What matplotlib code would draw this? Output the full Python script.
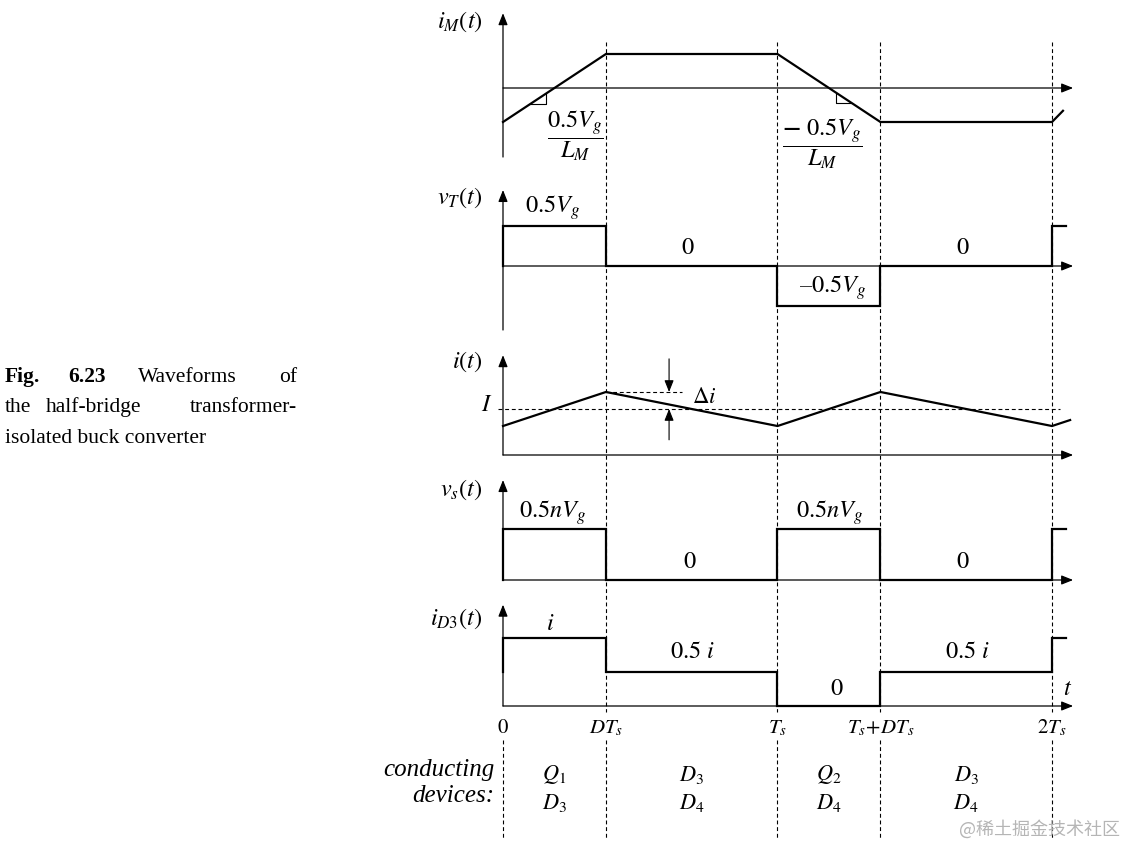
import numpy as np
import matplotlib
matplotlib.use("Agg")
import matplotlib.pyplot as plt

plt.rcParams['font.family'] = ['Liberation Serif', 'DejaVu Serif']
plt.rcParams['mathtext.fontset'] = 'stix'

# ---- data (time in units of Ts) ----
D = 0.375
t_marks = [0, D, 1, 1 + D, 2]
t_labels = ['$0$', '$DT_s$', '$T_s$', '$T_s\\!+\\!DT_s$', '$2T_s$']

# magnetizing current (normalized)
t_iM = [0, D, 1, 1 + D, 2, 2.04]
iM = [-1, 1, 1, -1, -1, -0.67]

# transformer voltage
t_sq = [0, 0, D, D, 1, 1, 1 + D, 1 + D, 2, 2, 2.05]
vT = [0, 1, 1, 0, 0, -1, -1, 0, 0, 1, 1]
vs = [0, 1, 1, 0, 0, 1, 1, 0, 0, 1, 1]
iD3 = [0.5, 1, 1, 0.5, 0.5, 0, 0, 0.5, 0.5, 1, 1]

# output inductor current
I_avg = 1.0
di = 0.37
t_i = [0, D, 1, 1 + D, 2, 2.066]
i_t = [I_avg - di, I_avg + di, I_avg - di, I_avg + di, I_avg - di, I_avg - di + 0.13]

devices_top = ['$Q_1$', '$D_3$', '$Q_2$', '$D_3$']
devices_bot = ['$D_3$', '$D_4$', '$D_4$', '$D_4$']

# ---- layout ----
W, H = 1125, 846
X0_PX, T_PX = 503, 274.5
XL = (-X0_PX / T_PX, (W - X0_PX) / T_PX)
X_END = 2.077
LW = 1.6
AX_LW = 0.9
DASH = (0, (3.5, 2.5))
FS = 17.5

fig = plt.figure(figsize=(W / 100, H / 100), dpi=100)

bg = fig.add_axes([0, 0, 1, 1])
bg.set_xlim(*XL)
bg.set_ylim(H, 0)
bg.axis('off')


def add_panel(axis_px, scale, top_px, bot_px):
    ax = fig.add_axes([0, 1 - bot_px / H, 1, (bot_px - top_px) / H])
    ax.set_xlim(*XL)
    ax.set_ylim((axis_px - bot_px) / scale, (axis_px - top_px) / scale)
    ax.axis('off')
    return ax


def arrow(ax, p0, p1, lw=AX_LW):
    ax.annotate('', xy=p1, xytext=p0,
                arrowprops=dict(arrowstyle='-|>,head_length=0.7,head_width=0.28',
                                lw=lw, color='k', shrinkA=0, shrinkB=0,
                                mutation_scale=10))


def axes_arrows(ax, ybot, ytop):
    arrow(ax, (0, ybot), (0, ytop))
    arrow(ax, (0, 0), (X_END, 0))


# dashed period markers
bg.vlines(t_marks[1:], 42, 712, colors='k', lw=0.8, linestyles=DASH)
bg.vlines(t_marks, 740, 840, colors='k', lw=0.8, linestyles=DASH)
for t, lab in zip(t_marks, t_labels):
    bg.text(t, 733, lab, ha='center', va='baseline', fontsize=15)

# conducting devices
bg.text(-0.03, 770, 'conducting', ha='right', va='center', fontsize=18, style='italic')
bg.text(-0.03, 796, 'devices:', ha='right', va='center', fontsize=18, style='italic')
mids = [(a + b) / 2 for a, b in zip(t_marks[:-1], t_marks[1:])]
for tm, a, b in zip(mids, devices_top, devices_bot):
    bg.text(tm, 775, a, ha='center', va='center', fontsize=16)
    bg.text(tm, 803, b, ha='center', va='center', fontsize=16)

# ---- i_M(t) ----
ax1 = add_panel(88, 34, 5, 165)
axes_arrows(ax1, -2.03, 2.2)
ax1.plot(t_iM, iM, color='k', lw=LW, solid_joinstyle='miter')
f_up = lambda t: -1 + 2 * t / D
f_dn = lambda t: 1 - 2 * (t - 1) / D
ta, tb = 0.097, 0.157
ax1.plot([ta, tb, tb], [f_up(ta), f_up(ta), f_up(tb)], color='k', lw=0.8)
ta, tb = 1.213, 1.268
ax1.plot([ta, ta, tb], [f_dn(ta), f_dn(tb), f_dn(tb)], color='k', lw=0.8)
ax1.text(0.262, -1.4, r'$\dfrac{0.5V_g}{L_M}$', ha='center', va='center', fontsize=FS)
ax1.text(1.162, -1.64, r'$\dfrac{\mathbf{-}\ 0.5V_g}{L_M}$', ha='center', va='center', fontsize=FS)
ax1.text(-0.075, 1.94, '$i_M(t)$', ha='right', va='center', fontsize=FS)

# ---- v_T(t) ----
ax2 = add_panel(266, 40, 180, 335)
axes_arrows(ax2, -1.6, 1.9)
ax2.plot(t_sq, vT, color='k', lw=LW, solid_joinstyle='miter')
ax2.text(0.182, 1.45, '$0.5V_g$', ha='center', va='center', fontsize=FS)
ax2.text(0.674, 0.45, '$0$', ha='center', va='center', fontsize=FS)
ax2.text(1.2, -0.55, '$\u20130.5V_g$', ha='center', va='center', fontsize=FS)
ax2.text(1.676, 0.45, '$0$', ha='center', va='center', fontsize=FS)
ax2.text(-0.075, 1.7, '$v_T(t)$', ha='right', va='center', fontsize=FS)

# ---- i(t) ----
ax3 = add_panel(455, 46, 345, 462)
axes_arrows(ax3, 0, 2.17)
ax3.plot([-0.02, 2.03], [I_avg, I_avg], color='k', lw=0.8, ls=DASH)
ax3.plot([D, 0.652], [I_avg + di, I_avg + di], color='k', lw=0.8, ls=DASH)
ax3.plot(t_i, i_t, color='k', lw=LW)
arrow(ax3, (0.605, 2.09), (0.605, I_avg + di), lw=0.8)
arrow(ax3, (0.605, 0.33), (0.605, I_avg), lw=0.8)
ax3.text(0.69, 1.24, r'$\Delta i$', ha='left', va='center', fontsize=16.5)
ax3.text(-0.058, I_avg + 0.08, '$I$', ha='center', va='center', fontsize=FS)
ax3.text(-0.075, 2.02, '$i(t)$', ha='right', va='center', fontsize=FS)

# ---- v_s(t) ----
ax4 = add_panel(580, 51, 470, 590)
axes_arrows(ax4, 0, 1.96)
ax4.plot(t_sq, vs, color='k', lw=LW, solid_joinstyle='miter')
ax4.text(0.18, 1.33, '$0.5nV_g$', ha='center', va='center', fontsize=FS)
ax4.text(1.19, 1.33, '$0.5nV_g$', ha='center', va='center', fontsize=FS)
ax4.text(0.68, 0.35, '$0$', ha='center', va='center', fontsize=FS)
ax4.text(1.676, 0.35, '$0$', ha='center', va='center', fontsize=FS)
ax4.text(-0.075, 1.76, '$v_s(t)$', ha='right', va='center', fontsize=FS)

# ---- i_D3(t) ----
ax5 = add_panel(706, 68, 595, 712)
axes_arrows(ax5, 0, 1.49)
ax5.plot(t_sq, iD3, color='k', lw=LW, solid_joinstyle='miter')
ax5.text(0.171, 1.2, '$i$', ha='center', va='center', fontsize=FS)
ax5.text(0.69, 0.78, '$0.5\\ i$', ha='center', va='center', fontsize=FS)
ax5.text(1.217, 0.24, '$0$', ha='center', va='center', fontsize=FS)
ax5.text(1.69, 0.78, '$0.5\\ i$', ha='center', va='center', fontsize=FS)
ax5.text(2.058, 0.24, '$t$', ha='center', va='center', fontsize=FS)
ax5.text(-0.075, 1.29, '$i_{D3}(t)$', ha='right', va='center', fontsize=FS)

# ---- caption ----
def ftext(x, y, s, **kw):
    fig.text(x / W, 1 - y / H, s, va='center', fontsize=15.5, **kw)

ftext(5, 377, 'Fig.', ha='left', weight='bold')
ftext(68, 377, '6.23', ha='left', weight='bold')
ftext(138, 377, 'Waveforms', ha='left')
ftext(297, 377, 'of', ha='right')
ftext(5, 407, 'the', ha='left')
ftext(46, 407, 'half-bridge', ha='left')
ftext(297, 407, 'transformer-', ha='right')
ftext(5, 438, 'isolated buck converter', ha='left')

fig.text(1120 / W, 1 - 829 / H, '@稀土掘金技术社区', ha='right', va='center',
         fontsize=13, color='#b5b5b5', family=['Noto Sans CJK SC', 'DejaVu Sans'])

fig.savefig('out.png', dpi=100)
